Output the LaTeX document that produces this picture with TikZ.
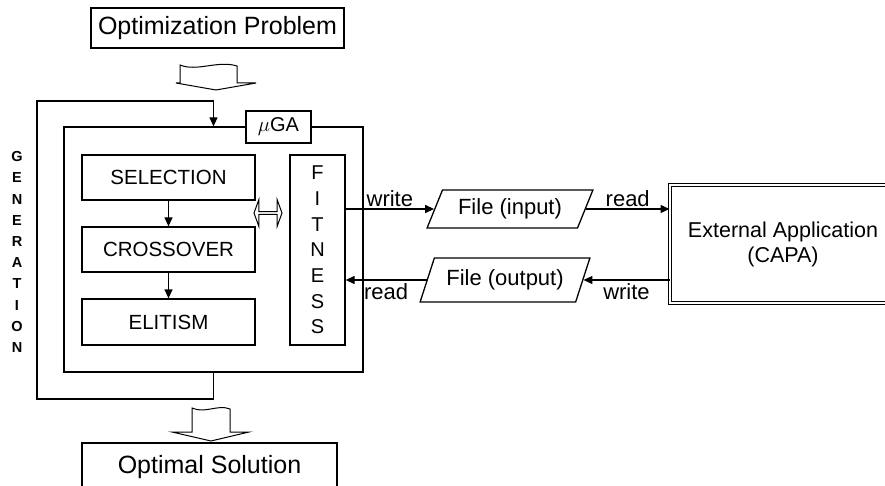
\documentclass[tikz,border=0pt]{standalone}
\usepackage{fontspec}
\setmainfont{Liberation Sans}
\usetikzlibrary{arrows.meta,shapes.geometric,shapes.arrows}

\begin{document}
\begin{tikzpicture}[x=1pt,y=-1pt,font=\fontsize{20}{24}\selectfont]
\def \lw {1.3pt}
\useasboundingbox (0,0) rectangle (885,486);
\clip (0,0) rectangle (885,486);
   \tikzset{BoxStyle/.style = {draw, line width=\lw, minimum height=45pt, inner sep=0pt}}
   \tikzset{EdgeStyle/.style = {line width=\lw, -{Triangle[length=9pt,width=8pt]}}}
   \tikzset{HollowStyle/.style = {draw, line width=1pt, fill=white}}

   \node[BoxStyle, minimum width=253pt, minimum height=40pt, font=\fontsize{25}{30}\selectfont] (prob) at (217.5,28) {Optimization Problem};
   \node[BoxStyle, minimum width=255pt, minimum height=48pt, font=\fontsize{25}{30}\selectfont] (sol) at (209.5,467) {Optimal Solution};

   \node[BoxStyle, minimum width=299pt, minimum height=245pt] (ga) at (213.5,249.5) {};
   \node[BoxStyle, fill=white, minimum width=65pt, minimum height=32pt] (galabel) at (278.5,127) {$\mu$GA};
   \node[BoxStyle, minimum width=173pt, font=\fontsize{20.5}{24}\selectfont] (sel) at (168.5,177.5) {SELECTION};
   \node[BoxStyle, minimum width=173pt, font=\fontsize{20.5}{24}\selectfont] (cross) at (168.5,249.5) {CROSSOVER};
   \node[BoxStyle, minimum width=173pt, minimum height=46pt, font=\fontsize{20.5}{24}\selectfont] (elit) at (168.5,322) {ELITISM};
   \node[BoxStyle, minimum width=55pt, minimum height=190pt, align=center, font=\fontsize{20}{25.7}\selectfont] (fit) at (317.5,250) {F\\I\\T\\N\\E\\S\\S};
   \node[draw, line width=1pt, double arrow, double arrow tip angle=140, double arrow head extend=4.5pt, minimum height=28pt, minimum width=27pt, inner sep=0pt] (swap) at (268,213) {};

   \node[align=center, inner sep=0pt, font=\bfseries\fontsize{14.5}{21.2}\selectfont] (gen) at (17,252) {G\\E\\N\\E\\R\\A\\T\\I\\O\\N};

   \tikzset{FileStyle/.style = {draw, line width=\lw, trapezium, trapezium left angle=60, trapezium right angle=120, trapezium stretches, inner sep=0pt, font=\fontsize{22}{26}\selectfont}}
   \node[FileStyle, minimum width=166pt, minimum height=38pt] (fin) at (510,209) {File (input)};
   \node[FileStyle, minimum width=170pt, minimum height=44pt] (fout) at (505,280) {File (output)};
   \node[draw, double, double distance=1.5pt, line width=1pt, minimum width=226pt, minimum height=118pt] (ext) at (783,244) {};
   \node[align=center, font=\fontsize{21.5}{25}\selectfont] (extlabel) at (ext.center) {External Application\\(CAPA)};

   \draw[EdgeStyle] (sel) -- (cross);
   \draw[EdgeStyle] (cross) -- (elit);

%  generation loop
   \coordinate (gbot) at (37,399);
   \coordinate (gtop) at (37,101);
   \draw[EdgeStyle] (ga.south) |- (gbot) -- (gtop) -| (ga.north);

   \tikzset{EdgeStyle/.append style = {font=\fontsize{22}{26}\selectfont}}
   \draw[EdgeStyle] (fit.east |- fin.west) -- node[above, inner sep=2pt] {write} (fin.west);
   \draw[EdgeStyle] (fin.east) -- node[above, inner sep=2pt] {read} (ext.west |- fin.east);
   \draw[EdgeStyle] (ext.west |- fout.east) -- node[below, inner sep=3pt] {write} (fout.east);
   \draw[EdgeStyle] (fout.west) -- node[below, inner sep=3pt] {read} (fit.east |- fout.west);

   \draw[HollowStyle] (180,83) -- (180,65) .. controls (197,72) and (218,60) .. (237,66) -- (237,83) -- (256,83) -- (216,90) -- (176,83) -- cycle;
   \draw[HollowStyle] (192,432) -- (192,408) .. controls (205,414) and (218,404) .. (230,409) -- (230,432) -- (249,432) -- (211,441) -- (172,432) -- cycle;
\end{tikzpicture}
\end{document}
